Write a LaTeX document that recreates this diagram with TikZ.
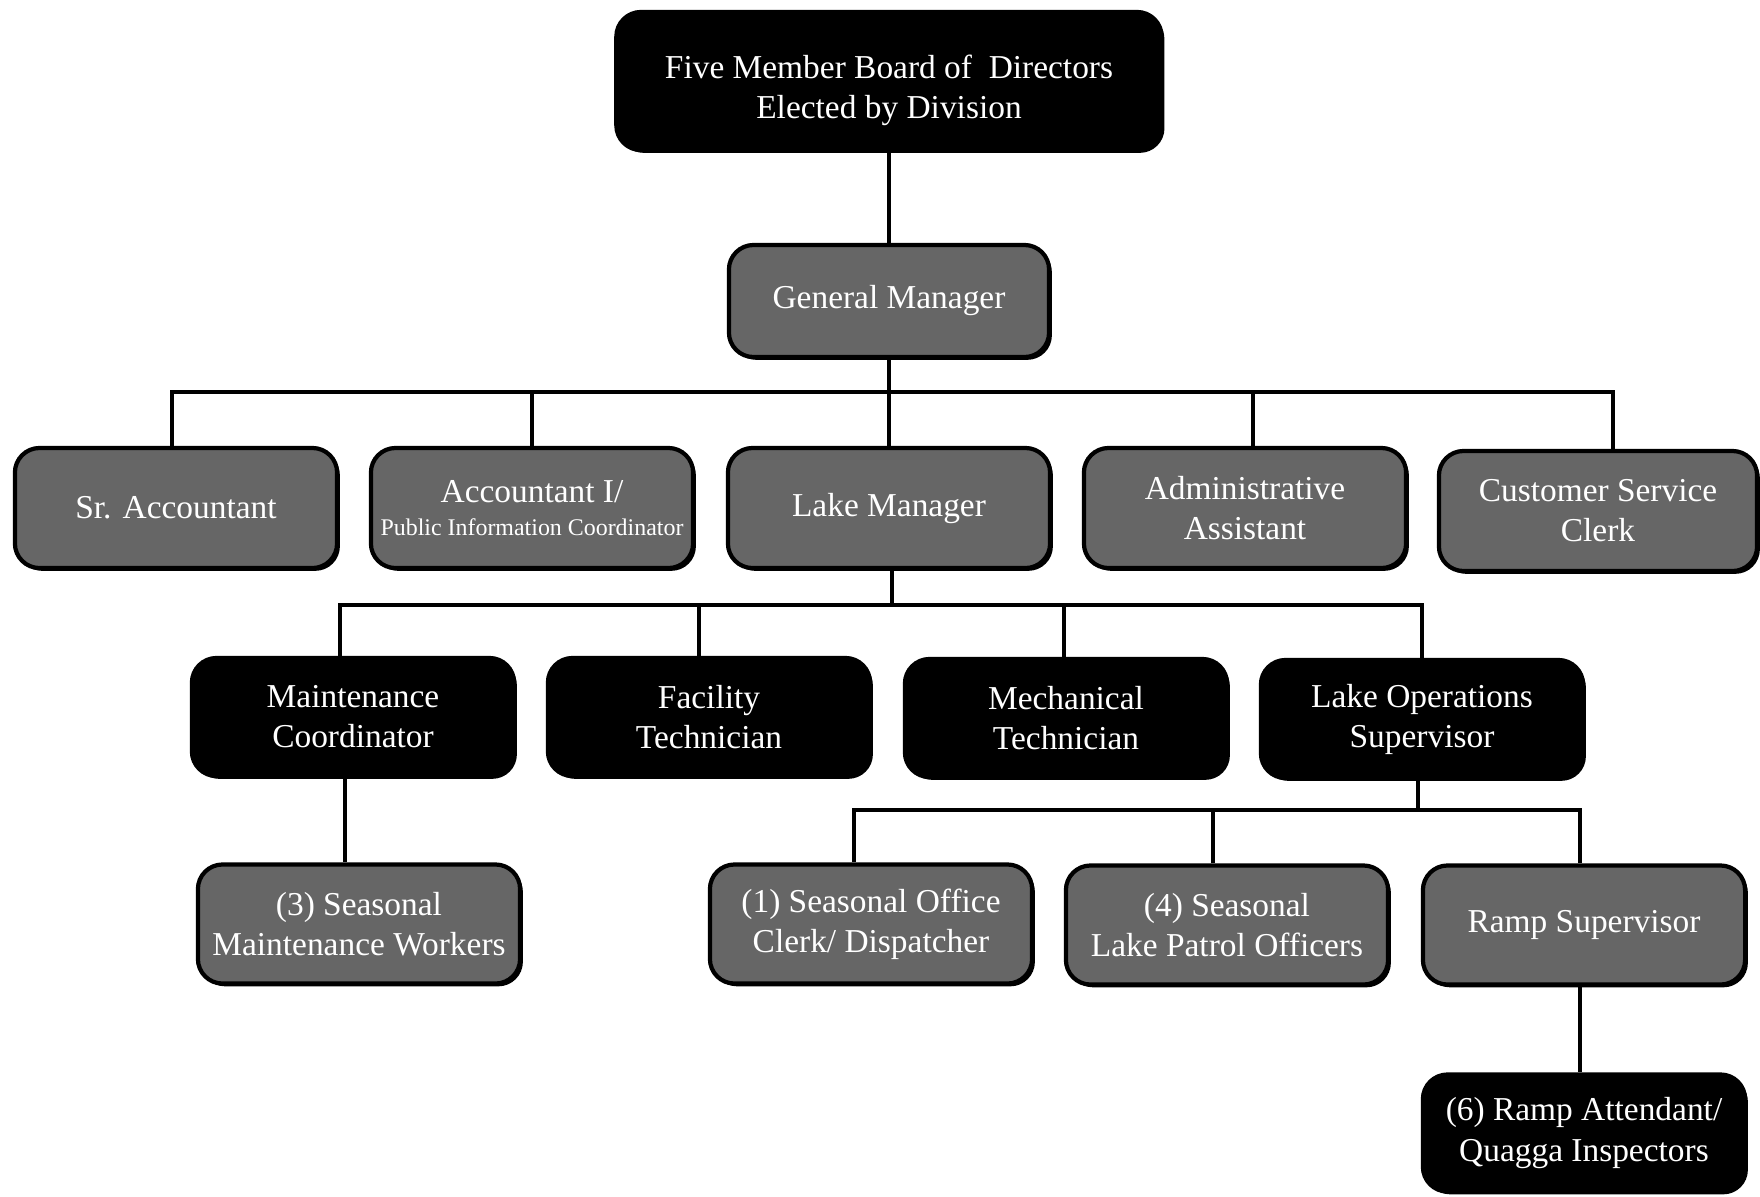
\documentclass[tikz,border=0pt]{standalone}
\usepackage{fontspec}
\setmainfont{Liberation Serif}
\usetikzlibrary{shadows}

\begin{document}
\begin{tikzpicture}[x=0.01cm, y=-0.01cm,
    box/.style={draw=black, line width=1.2pt, rounded corners=7pt, text=white,
      align=center, inner sep=2pt, font=\fontsize{9.5}{11.4}\selectfont,
      drop shadow={shadow xshift=0.8pt, shadow yshift=-0.8pt, fill=black, opacity=1}},
    darkbox/.style={box, fill=black},
    greybox/.style={box, fill=black!60},
    link/.style={black, line width=1pt}]
      \useasboundingbox (0,0) rectangle (1760,1196);

      % Topo
      \node[darkbox, minimum width=5.45cm, minimum height=1.38cm] (board) at (889,81)
        {\rule{0pt}{12pt}Five Member Board of\ \ Directors\\Elected by Division};
      \node[greybox, minimum width=3.2cm, minimum height=1.12cm] (gm) at (889,301) {General Manager};

      % Linha 2
      \node[greybox, minimum width=3.22cm, minimum height=1.2cm] (sracc) at (176,508) {Sr. Accountant};
      \node[greybox, minimum width=3.22cm, minimum height=1.2cm] (acc)   at (532,508)
        {Accountant I/\\[-2pt]{\fontsize{6.8}{7}\selectfont Public Information Coordinator}};
      \node[greybox, minimum width=3.22cm, minimum height=1.2cm] (lake)  at (889,508) {Lake Manager};
      \node[greybox, minimum width=3.22cm, minimum height=1.2cm] (admin) at (1245,508) {Administrative\\Assistant};
      \node[greybox, minimum width=3.18cm, minimum height=1.2cm] (cust)  at (1598,511) {Customer Service\\Clerk};

      % Linha 3
      \node[darkbox, minimum width=3.22cm, minimum height=1.18cm] (maint) at (353,717) {Maintenance\\Coordinator};
      \node[darkbox, minimum width=3.22cm, minimum height=1.18cm] (fac)   at (709,717) {Facility\\Technician};
      \node[darkbox, minimum width=3.22cm, minimum height=1.18cm] (mech)  at (1066,718) {Mechanical\\Technician};
      \node[darkbox, minimum width=3.22cm, minimum height=1.18cm] (lops)  at (1422,719) {Lake Operations\\Supervisor};

      % Linha 4
      \node[greybox, minimum width=3.22cm, minimum height=1.19cm] (smw)   at (359,924) {(3) Seasonal\\Maintenance Workers};
      \node[greybox, minimum width=3.22cm, minimum height=1.19cm] (soc)   at (871,924) {(1) Seasonal Office\\Clerk/ Dispatcher};
      \node[greybox, minimum width=3.22cm, minimum height=1.19cm] (slp)   at (1227,925) {(4) Seasonal\\Lake Patrol Officers};
      \node[greybox, minimum width=3.22cm, minimum height=1.19cm] (ramp)  at (1584,925) {Ramp Supervisor};
      \node[darkbox, minimum width=3.22cm, minimum height=1.17cm] (att)   at (1584,1133) {(6) Ramp Attendant/\\Quagga Inspectors};

      % Barras
      \coordinate (bus1) at (0,392);
      \coordinate (bus2) at (0,605);
      \coordinate (bus3) at (0,810);

      % Ligacoes
      \draw[link] (board.south) -- (gm.north);
      \draw[link] (gm.south) -- (gm.south |- bus1);
      \draw[link] ([xshift=-0.04cm]sracc.north) -- ([xshift=-0.04cm]sracc.north |- bus1) -| ([xshift=0.15cm]cust.north);
      \draw[link] (acc.north) -- (acc.north |- bus1);
      \draw[link] (lake.north) -- (lake.north |- bus1);
      \draw[link] ([xshift=0.08cm]admin.north) -- ([xshift=0.08cm]admin.north |- bus1);

      \draw[link] ([xshift=0.03cm]lake.south) -- ([xshift=0.03cm]lake.south |- bus2);
      \draw[link] ([xshift=-0.13cm]maint.north) -- ([xshift=-0.13cm]maint.north |- bus2) -| (lops.north);
      \draw[link] ([xshift=-0.1cm]fac.north) -- ([xshift=-0.1cm]fac.north |- bus2);
      \draw[link] ([xshift=-0.02cm]mech.north) -- ([xshift=-0.02cm]mech.north |- bus2);

      \draw[link] ([xshift=-0.08cm]maint.south) -- ([xshift=-0.08cm]maint.south |- smw.north);

      \draw[link] ([xshift=-0.04cm]lops.south) -- ([xshift=-0.04cm]lops.south |- bus3);
      \draw[link] ([xshift=-0.17cm]soc.north) -- ([xshift=-0.17cm]soc.north |- bus3) -| ([xshift=-0.04cm]ramp.north);
      \draw[link] ([xshift=-0.14cm]slp.north) -- ([xshift=-0.14cm]slp.north |- bus3);

      \draw[link] ([xshift=-0.04cm]ramp.south) -- ([xshift=-0.04cm]ramp.south |- att.north);

    \end{tikzpicture}
\end{document}
